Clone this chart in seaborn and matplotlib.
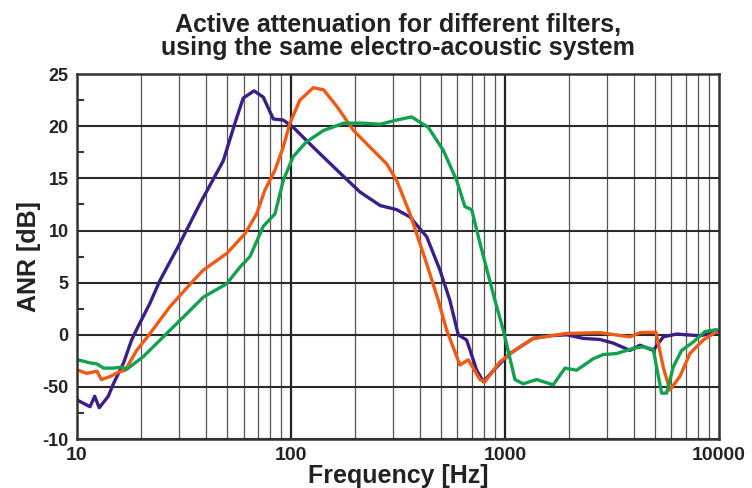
import numpy as np
import pandas as pd
import seaborn as sns
import matplotlib.pyplot as plt
from matplotlib.ticker import FixedLocator, NullFormatter

# filter A (purple)
freq_a = [10, 10.1, 11.5, 12.1, 12.7, 14.0, 14.8, 16.5, 18.0, 19.3, 21.9, 24.4, 30.3, 37.6,
          48.3, 54.7, 59.8, 67.2, 74.2, 82.7, 92.0, 102.5, 127, 164, 210, 261, 312, 360,
          431, 497, 553, 605, 662, 738, 792, 915, 1055, 1356, 1623, 1943, 2322, 2780,
          3207, 3838, 4274, 4932, 5492, 6343, 8150, 9925]
anr_a = [-6.1, -6.3, -6.9, -5.9, -7.0, -5.9, -4.7, -2.7, -0.5, 0.8, 3.0, 5.2, 8.8, 12.6,
         16.7, 20.3, 22.7, 23.4, 22.8, 20.7, 20.6, 19.9, 18.0, 15.8, 13.7, 12.4, 12.0, 11.3,
         9.4, 6.2, 3.3, 0.0, -0.5, -3.4, -4.5, -3.1, -1.8, -0.35, -0.1, 0.0, -0.35, -0.45,
         -0.8, -1.5, -1.0, -1.5, -0.2, 0.07, -0.1, 0.3]

# filter B (orange)
freq_b = [10, 10.1, 11.1, 12.4, 13.0, 14.3, 15.6, 16.8, 19.0, 21.9, 27.2, 35.0, 38.9, 50.1,
          61.0, 69.1, 75.6, 84.2, 92.0, 98.9, 110, 127, 142, 164, 196, 234, 280, 312, 360,
          431, 488, 534, 616, 674, 764, 806, 948, 1094, 1356, 1943, 2780, 3838, 4274, 5077,
          5492, 5902, 6573, 7319, 8446, 9754]
anr_b = [-3.4, -3.4, -3.7, -3.5, -4.3, -4.0, -3.6, -3.4, -1.5, 0.1, 2.7, 5.2, 6.2, 7.8,
         9.7, 11.6, 13.9, 15.8, 18.0, 20.3, 22.5, 23.7, 23.5, 21.9, 19.6, 18.0, 16.4, 14.8,
         11.6, 6.8, 3.3, 0.45, -2.9, -2.4, -4.3, -4.5, -2.6, -1.6, -0.35, 0.13, 0.2, -0.2,
         0.2, 0.25, -3.1, -5.3, -4.0, -1.8, -0.5, 0.3]

# filter C (green)
freq_c = [10, 10.1, 11.5, 12.4, 13.3, 14.8, 16.2, 17.1, 20.4, 25.3, 31.4, 38.9, 50.1, 57.8,
          64.3, 74.2, 84.2, 92.0, 102.5, 118, 142, 176, 218, 261, 312, 366, 438, 515, 595,
          650, 699, 764, 898, 982, 1114, 1217, 1407, 1682, 1907, 2163, 2586, 2880, 3327,
          3977, 4430, 4932, 5398, 5695, 6115, 6694, 7585, 8602, 9754]
anr_c = [-2.4, -2.4, -2.7, -2.8, -3.2, -3.2, -3.1, -3.3, -2.1, -0.2, 1.7, 3.6, 4.9, 6.5,
         7.5, 10.4, 11.6, 14.8, 17.1, 18.5, 19.6, 20.3, 20.3, 20.2, 20.6, 20.9, 19.9, 17.7,
         14.8, 12.3, 12.0, 8.8, 3.3, 0.45, -4.3, -4.7, -4.3, -4.8, -3.2, -3.4, -2.3, -1.9,
         -1.8, -1.3, -1.15, -1.4, -5.6, -5.6, -3.1, -1.5, -0.7, 0.3, 0.5]

y_ticks = [25, 20, 15, 10, 5, 0, -5, -10]
y_labels = ["25", "20", "15", "10", "5", "0", "-50", "-10"]
x_ticks = [10, 100, 1000, 10000]
x_labels = ["10", "100", "1000", "10000"]

sns.set_style("white")
plt.rcParams['font.family'] = ['Liberation Sans', 'DejaVu Sans']

fig = plt.figure(figsize=(7.52, 4.88), dpi=100)
ax = fig.add_axes([0.1024, 0.1004, 0.8536, 0.7476])

series = [(freq_a, anr_a, "#3b1f86"), (freq_b, anr_b, "#f05a14"), (freq_c, anr_c, "#13a04f")]
for f, v, c in series:
    sns.lineplot(x=f, y=v, ax=ax, color=c, linewidth=2.4, sort=False)

ax.set_xscale("log")
ax.set_xlim(10, 10000)
ax.set_ylim(-10, 25)

# grid
minor_x = [m * d for d in (10, 100, 1000) for m in range(2, 10)]
for xv in minor_x:
    ax.axvline(xv, color="#555555", linewidth=0.9, zorder=0)
for xv in (100, 1000):
    ax.axvline(xv, color="#222222", linewidth=1.6, zorder=0)
for yv in y_ticks:
    ax.axhline(yv, color="#2a2a2a", linewidth=1.5, zorder=0)

ax.xaxis.set_major_locator(FixedLocator(x_ticks))
ax.xaxis.set_minor_locator(FixedLocator(minor_x))
ax.xaxis.set_minor_formatter(NullFormatter())
ax.set_xticklabels(x_labels)
ax.set_yticks(y_ticks)
ax.set_yticklabels(y_labels)
ax.yaxis.set_minor_locator(FixedLocator(np.arange(-7.5, 25, 5)))

ax.tick_params(axis="x", which="both", length=0, pad=6, labelsize=14)
ax.tick_params(axis="y", which="major", length=0, pad=6, labelsize=13)
ax.tick_params(axis="y", which="minor", direction="in", length=5, width=1.5, color="#333333", left=True)
for lab in ax.get_xticklabels() + ax.get_yticklabels():
    lab.set_fontweight("bold")
    lab.set_color("#222222")

for s in ax.spines.values():
    s.set_color("#333333")
    s.set_linewidth(1.8)

ax.set_xlabel("Frequency [Hz]", fontsize=18, fontweight="bold", color="#222222", labelpad=0)
ax.set_ylabel("ANR [dB]", fontsize=18, fontweight="bold", color="#222222", labelpad=1)
ax.set_title("Active attenuation for different filters,\nusing the same electro-acoustic system",
             fontsize=18, fontweight="bold", color="#222222", pad=14, linespacing=0.95)

fig.savefig("out.png", dpi=100)
